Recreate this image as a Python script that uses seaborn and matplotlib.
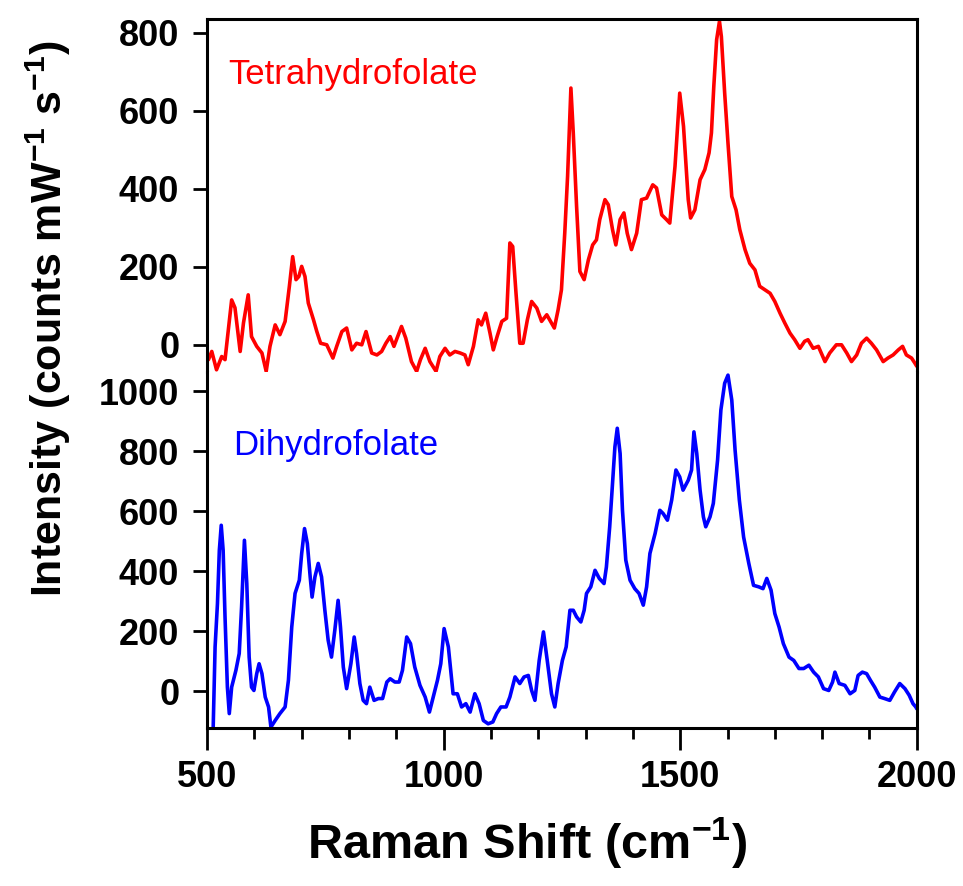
import numpy as np
import pandas as pd
import matplotlib
matplotlib.use('Agg')
import matplotlib.pyplot as plt
import seaborn as sns
from matplotlib.ticker import MultipleLocator

# --- data (Raman shift in cm-1, intensity in counts mW-1 s-1) ---
thf_shift = [500, 503, 510, 520, 531, 538, 552, 559, 570, 577, 587, 594, 605, 616, 625,
             633, 644, 654, 665, 674, 681, 688, 694, 700, 707, 714, 725, 732, 740, 753,
             766, 774, 785, 795, 806, 816, 827, 836, 848, 859, 869, 878, 887, 895, 911,
             920, 932, 943, 951, 961, 971, 984, 992, 1003, 1013, 1024, 1035, 1045, 1052,
             1063, 1073, 1080, 1089, 1098, 1105, 1113, 1123, 1133, 1140, 1146, 1153, 1161,
             1168, 1177, 1186, 1197, 1207, 1218, 1226, 1234, 1242, 1249, 1256, 1262, 1269,
             1274, 1281, 1288, 1297, 1306, 1315, 1323, 1330, 1341, 1348, 1357, 1364, 1373,
             1381, 1388, 1397, 1408, 1418, 1429, 1442, 1450, 1461, 1471, 1478, 1489, 1499,
             1507, 1517, 1522, 1531, 1542, 1552, 1561, 1566, 1571, 1577, 1583, 1587, 1594,
             1601, 1609, 1618, 1626, 1637, 1647, 1658, 1668, 1679, 1690, 1700, 1711, 1721,
             1732, 1742, 1753, 1763, 1770, 1781, 1792, 1806, 1816, 1830, 1841, 1852, 1862,
             1873, 1883, 1894, 1904, 1915, 1929, 1939, 1950, 1961, 1970, 1978, 1989, 1996,
             2000]
thf_intensity = [-35, -38, -17, -64, -30, -38, 115, 95, -17, 56, 128, 21, -4, -21, -68,
                 -4, 51, 26, 60, 150, 226, 167, 175, 201, 175, 107, 64, 34, 4, 0,
                 -34, -4, 34, 43, -13, 4, 0, 34, -21, -26, -17, 4, 21, -4, 47,
                 17, -43, -68, -38, -9, -43, -68, -30, -9, -26, -17, -21, -26, -51,
                 -4, 64, 51, 81, 30, -13, 21, 60, 68, 261, 252, 132, 4,
                 4, 64, 111, 94, 60, 77, 60, 43, 90, 141, 286, 432, 658,
                 543, 355, 188, 167, 218, 256, 269, 321, 372, 359, 295, 256, 321,
                 338, 286, 244, 286, 372, 376, 410, 402, 333, 321, 312, 457, 645,
                 560, 372, 325, 346, 423, 449, 492, 543, 662, 782, 829, 790, 645,
                 517, 380, 346, 295, 244, 209, 192, 150, 141, 132, 111, 81, 56,
                 30, 13, -9, 9, 13, -9, -4, -43, -21, 0, 0, -21, -43,
                 -26, 4, 17, 4, -13, -43, -34, -26, -13, -4, -26, -34, -47,
                 -55]

dhf_shift = [510, 513, 517, 522, 526, 530, 534, 538, 543, 547, 552, 561, 568, 573, 579,
             584, 589, 594, 599, 605, 610, 616, 623, 630, 635, 644, 654, 665, 672, 679,
             686, 695, 700, 706, 712, 718, 722, 728, 735, 742, 749, 756, 763, 770, 777,
             782, 788, 795, 804, 811, 816, 823, 830, 837, 844, 853, 862, 871, 880, 887,
             897, 906, 913, 922, 930, 939, 950, 961, 970, 978, 987, 994, 1001, 1010, 1020,
             1029, 1038, 1047, 1056, 1066, 1075, 1084, 1094, 1104, 1112, 1121, 1132, 1140,
             1151, 1161, 1170, 1179, 1186, 1193, 1202, 1211, 1219, 1228, 1235, 1242, 1251,
             1259, 1267, 1274, 1281, 1290, 1297, 1302, 1311, 1320, 1329, 1339, 1344, 1351,
             1357, 1362, 1367, 1373, 1378, 1385, 1394, 1404, 1413, 1422, 1429, 1436, 1447,
             1457, 1464, 1473, 1482, 1491, 1499, 1506, 1517, 1524, 1529, 1535, 1542, 1549,
             1554, 1563, 1570, 1579, 1586, 1594, 1601, 1609, 1616, 1625, 1634, 1645, 1655,
             1666, 1675, 1683, 1692, 1700, 1709, 1718, 1730, 1740, 1751, 1761, 1772, 1782,
             1792, 1803, 1814, 1822, 1827, 1836, 1848, 1859, 1869, 1876, 1885, 1894, 1902,
             1911, 1922, 1932, 1943, 1953, 1964, 1975, 1984, 1992, 1998, 2000]
dhf_intensity = [-140, -119, 148, 292, 470, 553, 470, 248, 14, -74, 14, 70, 126, 281, 503,
                 359, 114, 14, 3, 59, 92, 59, -19, -52, -119, -97, -74, -52, 37, 214,
                 326, 370, 459, 542, 492, 381, 314, 381, 426, 381, 270, 170, 114, 203, 303,
                 214, 81, 9, 92, 181, 126, 26, -30, -41, 14, -30, -24, -24, 31, 42,
                 31, 31, 70, 181, 159, 81, 20, -19, -69, -19, 37, 92, 209, 148, -8,
                 -8, -52, -41, -69, -8, -41, -97, -108, -102, -74, -52, -52, -19,
                 48, 26, 48, 53, 3, -30, 103, 198, 103, -8, -52, 26, 103,
                 148, 270, 270, 248, 231, 270, 326, 348, 403, 376, 359, 414, 548,
                 692, 814, 876, 792, 603, 437, 370, 342, 326, 287, 348, 459, 526,
                 603, 592, 570, 637, 737, 714, 670, 703, 737, 864, 792, 670, 581,
                 548, 581, 626, 770, 937, 1026, 1053, 970, 803, 637, 514, 426, 353,
                 348, 342, 376, 337, 259, 214, 159, 114, 103, 76, 76, 87, 64,
                 48, 9, 3, 31, 64, 26, 20, -8, 3, 53, 64, 59, 37,
                 14, -19, -24, -30, -2, 26, 9, -13, -41, -52, -58]

top_ticks = [0, 200, 400, 600, 800]
bottom_ticks = [0, 200, 400, 600, 800, 1000]
x_ticks = [500, 1000, 1500, 2000]

thf = pd.DataFrame({'shift': thf_shift, 'intensity': thf_intensity})
dhf = pd.DataFrame({'shift': dhf_shift, 'intensity': dhf_intensity})

# --- style ---
sns.set_style('ticks')
plt.rcParams['font.family'] = ['Liberation Sans', 'DejaVu Sans']
plt.rcParams['text.color'] = 'black'
plt.rcParams['xtick.color'] = 'black'
plt.rcParams['ytick.color'] = 'black'
plt.rcParams['xtick.labelcolor'] = 'black'
plt.rcParams['ytick.labelcolor'] = 'black'
plt.rcParams['mathtext.fontset'] = 'custom'
plt.rcParams['mathtext.rm'] = 'Liberation Sans:bold'
plt.rcParams['mathtext.bf'] = 'Liberation Sans:bold'
plt.rcParams['mathtext.default'] = 'rm'

fig = plt.figure(figsize=(9.63, 8.86), dpi=100)
ax_top = fig.add_axes([0.215, 0.580, 0.737, 0.399])
ax_bot = fig.add_axes([0.215, 0.178, 0.737, 0.402])

sns.lineplot(data=thf, x='shift', y='intensity', ax=ax_top, color='#ff0000',
             linewidth=2.6, estimator=None)
sns.lineplot(data=dhf, x='shift', y='intensity', ax=ax_bot, color='#0000ff',
             linewidth=2.6, estimator=None)

ax_top.set_xlim(500, 2000)
ax_bot.set_xlim(500, 2000)
ax_top.set_ylim(-70, 836)
ax_bot.set_ylim(-123, 1063)

for ax in (ax_top, ax_bot):
    ax.set_xlabel('')
    ax.set_ylabel('')
    for s in ax.spines.values():
        s.set_linewidth(2.2)
        s.set_color('black')
    ax.tick_params(axis='y', direction='out', length=10, width=2, pad=10,
                   left=True, right=False, colors='black')

ax_top.spines['bottom'].set_visible(False)
ax_bot.spines['top'].set_visible(False)

ax_top.set_yticks(top_ticks)
ax_top.set_yticklabels([str(t) for t in top_ticks], fontweight='bold', fontsize=26)
ax_bot.set_yticks(bottom_ticks)
ax_bot.set_yticklabels([str(t) for t in bottom_ticks], fontweight='bold', fontsize=26)

ax_top.tick_params(axis='x', bottom=False, labelbottom=False)
ax_bot.set_xticks(x_ticks)
ax_bot.set_xticklabels([str(t) for t in x_ticks], fontweight='bold', fontsize=26)
ax_bot.xaxis.set_minor_locator(MultipleLocator(100))
ax_bot.tick_params(axis='x', which='major', direction='out', length=16, width=2, pad=7,
                   colors='black')
ax_bot.tick_params(axis='x', which='minor', direction='out', length=8, width=2,
                   colors='black')

ax_top.text(544, 692, 'Tetrahydrofolate', color='#ff0000', fontsize=25, va='center')
ax_bot.text(555, 820, 'Dihydrofolate', color='#0000ff', fontsize=25, va='center')

fig.text(0.050, 0.640, 'Intensity (counts mW$^{-1}$ s$^{-1}$)', rotation=90,
         fontsize=31, fontweight='bold', ha='center', va='center', color='black')
fig.text(0.547, 0.048, 'Raman Shift (cm$^{-1}$)', fontsize=35, fontweight='bold',
         ha='center', va='center', color='black')

fig.savefig('out.png', dpi=100)
